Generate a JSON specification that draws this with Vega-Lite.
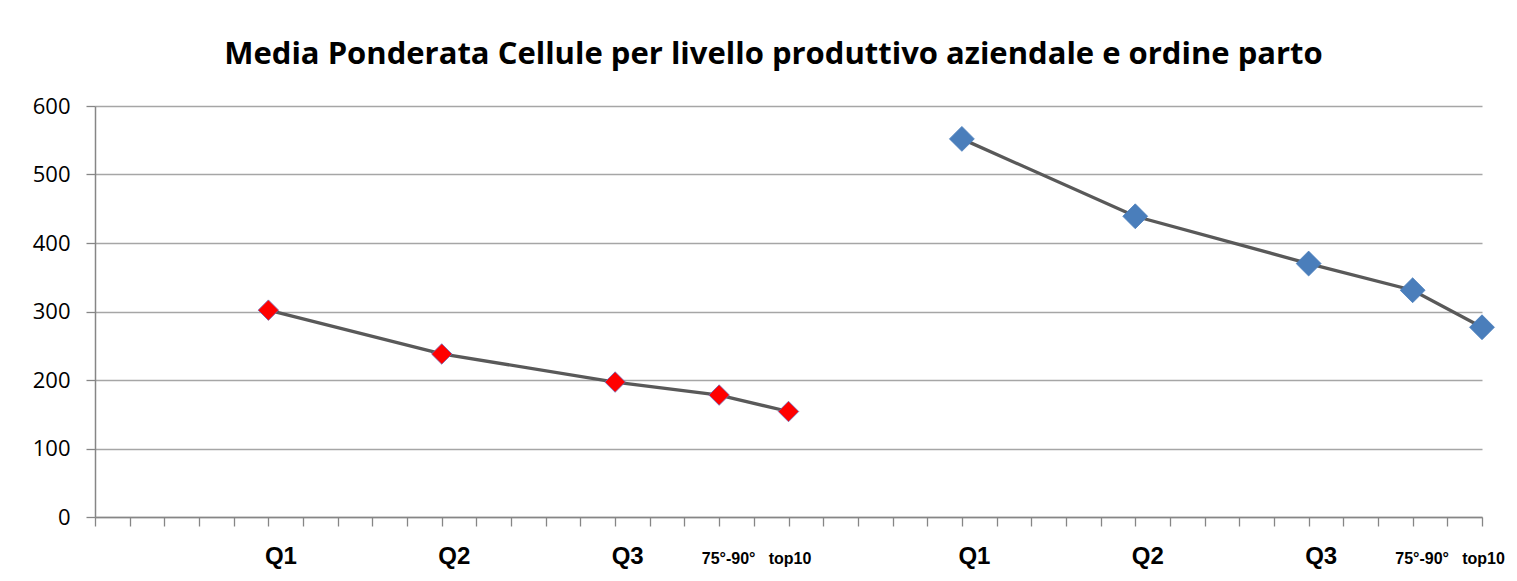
{
  "$schema": "https://vega.github.io/schema/vega-lite/v6.json",
  "width": 1387,
  "height": 411,
  "padding": {"left": 32, "top": 39, "right": 5, "bottom": 5},
  "background": "white",
  "title": {
    "text": "Media Ponderata Cellule per livello produttivo aziendale e ordine parto",
    "font": "Open Sans",
    "fontSize": 31,
    "fontWeight": "bold",
    "color": "#000000",
    "anchor": "middle",
    "frame": "group",
    "dx": -15,
    "offset": 24
  },
  "config": {
    "view": {"stroke": null},
    "axis": {"domainColor": "#868686", "tickColor": "#868686", "gridColor": "#a6a6a6", "domainWidth": 1.5, "tickWidth": 1.3}
  },
  "data": {
    "values": [
      {"serie": "A", "pos": 5, "cat": "Q1", "valore": 302},
      {"serie": "A", "pos": 10, "cat": "Q2", "valore": 238},
      {"serie": "A", "pos": 15, "cat": "Q3", "valore": 197},
      {"serie": "A", "pos": 18, "cat": "75°-90°", "valore": 178},
      {"serie": "A", "pos": 20, "cat": "top10", "valore": 154},
      {"serie": "B", "pos": 25, "cat": "Q1", "valore": 552},
      {"serie": "B", "pos": 30, "cat": "Q2", "valore": 439},
      {"serie": "B", "pos": 35, "cat": "Q3", "valore": 370},
      {"serie": "B", "pos": 38, "cat": "75°-90°", "valore": 331},
      {"serie": "B", "pos": 40, "cat": "top10", "valore": 277}
    ]
  },
  "encoding": {
    "x": {
      "field": "pos",
      "type": "quantitative",
      "scale": {"domain": [0, 40], "nice": false, "zero": true},
      "axis": {
        "title": null,
        "grid": false,
        "values": [0,1,2,3,4,5,6,7,8,9,10,11,12,13,14,15,16,17,18,19,20,21,22,23,24,25,26,27,28,29,30,31,32,33,34,35,36,37,38,39,40],
        "labelExpr": "datum.value==5||datum.value==25?'Q1':datum.value==10||datum.value==30?'Q2':datum.value==15||datum.value==35?'Q3':datum.value==18||datum.value==38?'75°-90°':datum.value==20||datum.value==40?'top10':''",
        "labelFont": "Liberation Sans",
        "labelFontWeight": "bold",
        "labelColor": "#000000",
        "labelFontSize": {"condition": {"test": "datum.value==18||datum.value==38||datum.value==20||datum.value==40", "value": 16}, "value": 24},
        "labelOffset": {"condition": [{"test": "datum.value==18||datum.value==38", "value": 9}, {"test": "datum.value==20||datum.value==40", "value": 1}], "value": 12},
        "labelBaseline": "alphabetic",
        "labelAlign": "center",
        "labelPadding": 37,
        "tickSize": 9,
        "labelOverlap": false,
        "labelBound": false,
        "labelFlush": false
      }
    },
    "y": {
      "field": "valore",
      "type": "quantitative",
      "scale": {"domain": [0, 600], "nice": false},
      "axis": {
        "title": null,
        "values": [0,100,200,300,400,500,600],
        "labelFont": "Open Sans",
        "labelFontSize": 22,
        "labelColor": "#000000",
        "labelPadding": 16,
        "tickSize": 9,
        "gridWidth": 1.3
      }
    }
  },
  "layer": [
    {
      "mark": {"type": "line", "color": "#595959", "strokeWidth": 3.3},
      "encoding": {"detail": {"field": "serie"}}
    },
    {
      "mark": {"type": "point", "shape": "diamond", "filled": true, "opacity": 1, "strokeWidth": 0.8},
      "encoding": {
        "color": {"field": "serie", "type": "nominal", "legend": null, "scale": {"domain": ["A", "B"], "range": ["#ff0000", "#4a7ebb"]}},
        "stroke": {"field": "serie", "type": "nominal", "legend": null, "scale": {"domain": ["A", "B"], "range": ["#6b6bb8", "#4a7ebb"]}},
        "size": {"field": "serie", "type": "nominal", "legend": null, "scale": {"domain": ["A", "B"], "range": [420, 620]}}
      }
    }
  ]
}
